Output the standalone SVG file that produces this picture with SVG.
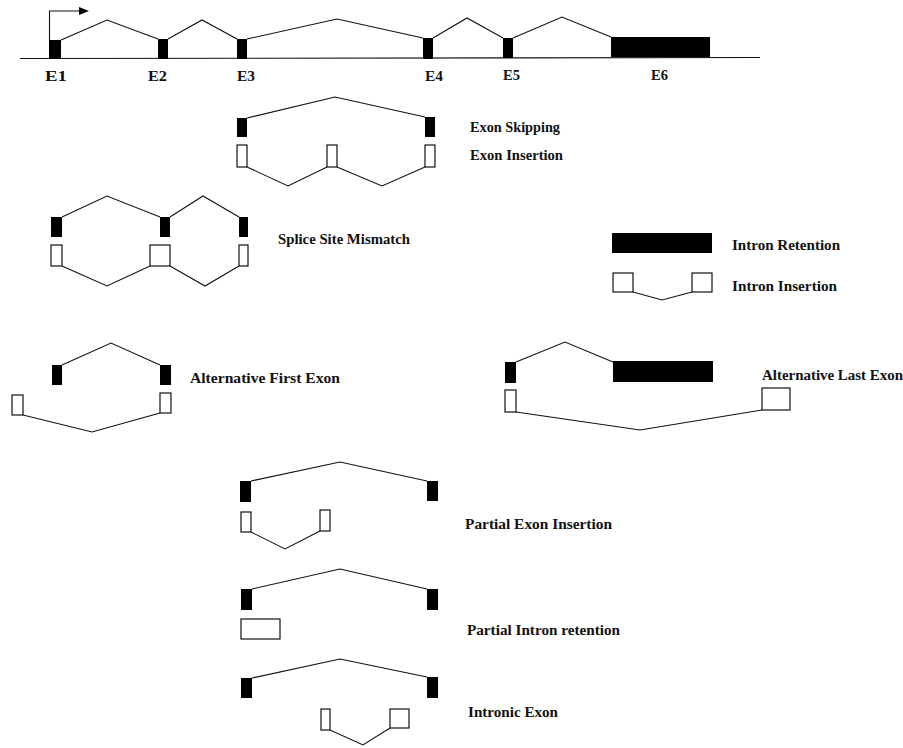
<svg xmlns="http://www.w3.org/2000/svg" width="903" height="748" viewBox="0 0 903 748">
<defs>
<style>
.ex{fill:#000;stroke:none}
.wx{fill:#fff;stroke:#111;stroke-width:1.2}
.ln{fill:none;stroke:#111;stroke-width:1.1}
.lb{font-family:"Liberation Serif","Times New Roman",serif;font-weight:bold;font-size:14px;fill:#111}
.el{font-family:"Liberation Serif","Times New Roman",serif;font-weight:bold;font-size:15px;fill:#111}
</style>
<marker id="ah" markerWidth="10" markerHeight="8" refX="1" refY="4" orient="auto" markerUnits="userSpaceOnUse">
<path d="M0,0 L10,4 L0,8 Z" fill="#000"/>
</marker>
</defs>
<rect width="903" height="748" fill="#fff"/>

<g id="connectors">
<!-- gene model -->
<path class="ln" d="M20,58.5 L760,57.5"/>
<path class="ln" d="M49.5,40 L49.5,11 L80,11" marker-end="url(#ah)"/>
<path class="ln" d="M61,40 L107,20 L158,39"/>
<path class="ln" d="M168,39 L202,20 L237,39"/>
<path class="ln" d="M247,39 L337,19 L423,38"/>
<path class="ln" d="M433,38 L467,18 L503,38"/>
<path class="ln" d="M513,38 L562,17 L611,37"/>
<!-- exon skipping / insertion -->
<path class="ln" d="M247,118 L335,97 L425,117"/>
<path class="ln" d="M247,167 L288,186 L327,167"/>
<path class="ln" d="M337,167 L382,186 L425,167"/>
<!-- splice site mismatch -->
<path class="ln" d="M62,217 L107,196 L160,217"/>
<path class="ln" d="M170,217 L203,196 L239,217"/>
<path class="ln" d="M62,266 L107,286 L150,266"/>
<path class="ln" d="M170,266 L205,286 L239,266"/>
<!-- intron insertion -->
<path class="ln" d="M633,292 L662,300 L692,292"/>
<!-- alternative first exon -->
<path class="ln" d="M62,365 L111,343 L160,365"/>
<path class="ln" d="M23,415 L92,432 L160,413"/>
<!-- alternative last exon -->
<path class="ln" d="M516,362 L565,342 L613,362"/>
<path class="ln" d="M516,412 L640,430 L762,410"/>
<!-- partial exon insertion -->
<path class="ln" d="M251,481 L340,462 L427,481"/>
<path class="ln" d="M251,532 L285,549 L320,531"/>
<!-- partial intron retention -->
<path class="ln" d="M252,589 L340,569 L427,589"/>
<!-- intronic exon -->
<path class="ln" d="M252,678 L340,659 L427,677"/>
<path class="ln" d="M330,730 L363,745 L390,728"/>
</g>

<g id="gene-model">
<rect class="ex" x="49" y="40" width="12" height="19"/>
<rect class="ex" x="158" y="39" width="10" height="20"/>
<rect class="ex" x="237" y="39" width="10" height="20"/>
<rect class="ex" x="423" y="38" width="10" height="21"/>
<rect class="ex" x="503" y="38" width="10" height="20"/>
<rect class="ex" x="611" y="37" width="99" height="20"/>
<text class="el" x="45" y="81" textLength="22" lengthAdjust="spacingAndGlyphs">E1</text>
<text class="el" x="148" y="81" textLength="19" lengthAdjust="spacingAndGlyphs">E2</text>
<text class="el" x="237" y="81" textLength="18" lengthAdjust="spacingAndGlyphs">E3</text>
<text class="el" x="425" y="81" textLength="18" lengthAdjust="spacingAndGlyphs">E4</text>
<text class="el" x="503" y="80" textLength="17" lengthAdjust="spacingAndGlyphs">E5</text>
<text class="el" x="651" y="80" textLength="17" lengthAdjust="spacingAndGlyphs">E6</text>
</g>

<g id="exon-skipping">
<rect class="ex" x="237" y="118" width="10" height="19"/>
<rect class="ex" x="425" y="117" width="10" height="20"/>
<text class="lb" x="470" y="132" textLength="90" lengthAdjust="spacingAndGlyphs">Exon Skipping</text>
</g>

<g id="exon-insertion">
<rect class="wx" x="237" y="145" width="10" height="22"/>
<rect class="wx" x="327" y="145" width="10" height="22"/>
<rect class="wx" x="425" y="145" width="10" height="22"/>
<text class="lb" x="470" y="160" textLength="93" lengthAdjust="spacingAndGlyphs">Exon Insertion</text>
</g>

<g id="splice-site-mismatch">
<rect class="ex" x="51" y="217" width="11" height="20"/>
<rect class="ex" x="160" y="217" width="10" height="20"/>
<rect class="ex" x="239" y="217" width="9" height="20"/>
<rect class="wx" x="51" y="245" width="11" height="21"/>
<rect class="wx" x="150" y="245" width="20" height="21"/>
<rect class="wx" x="239" y="245" width="9" height="21"/>
<text class="lb" x="278" y="244" textLength="132" lengthAdjust="spacingAndGlyphs">Splice Site Mismatch</text>
</g>

<g id="intron-retention">
<rect class="ex" x="612" y="233" width="100" height="20"/>
<text class="lb" x="732" y="250" textLength="108" lengthAdjust="spacingAndGlyphs">Intron Retention</text>
</g>

<g id="intron-insertion">
<rect class="wx" x="613" y="273" width="20" height="19"/>
<rect class="wx" x="692" y="273" width="20" height="19"/>
<text class="lb" x="732" y="291" textLength="105" lengthAdjust="spacingAndGlyphs">Intron Insertion</text>
</g>

<g id="alternative-first-exon">
<rect class="ex" x="52" y="365" width="10" height="20"/>
<rect class="ex" x="160" y="365" width="11" height="20"/>
<rect class="wx" x="12" y="395" width="11" height="20"/>
<rect class="wx" x="160" y="393" width="11" height="20"/>
<text class="lb" x="190" y="383" textLength="150" lengthAdjust="spacingAndGlyphs">Alternative First Exon</text>
</g>

<g id="alternative-last-exon">
<rect class="ex" x="505" y="362" width="11" height="21"/>
<rect class="ex" x="613" y="361" width="100" height="21"/>
<rect class="wx" x="505" y="390" width="11" height="22"/>
<rect class="wx" x="762" y="388" width="28" height="22"/>
<text class="lb" x="762" y="380" textLength="141" lengthAdjust="spacingAndGlyphs">Alternative Last Exon</text>
</g>

<g id="partial-exon-insertion">
<rect class="ex" x="240" y="481" width="11" height="21"/>
<rect class="ex" x="427" y="481" width="11" height="20"/>
<rect class="wx" x="241" y="512" width="10" height="20"/>
<rect class="wx" x="320" y="510" width="10" height="21"/>
<text class="lb" x="465" y="529" textLength="147" lengthAdjust="spacingAndGlyphs">Partial Exon Insertion</text>
</g>

<g id="partial-intron-retention">
<rect class="ex" x="241" y="589" width="11" height="21"/>
<rect class="ex" x="427" y="589" width="11" height="21"/>
<rect class="wx" x="241" y="619" width="39" height="20"/>
<text class="lb" x="467" y="635" textLength="153" lengthAdjust="spacingAndGlyphs">Partial Intron retention</text>
</g>

<g id="intronic-exon">
<rect class="ex" x="241" y="678" width="11" height="20"/>
<rect class="ex" x="427" y="677" width="11" height="21"/>
<rect class="wx" x="321" y="709" width="9" height="21"/>
<rect class="wx" x="390" y="709" width="19" height="19"/>
<text class="lb" x="468" y="717" textLength="90" lengthAdjust="spacingAndGlyphs">Intronic Exon</text>
</g>
</svg>
